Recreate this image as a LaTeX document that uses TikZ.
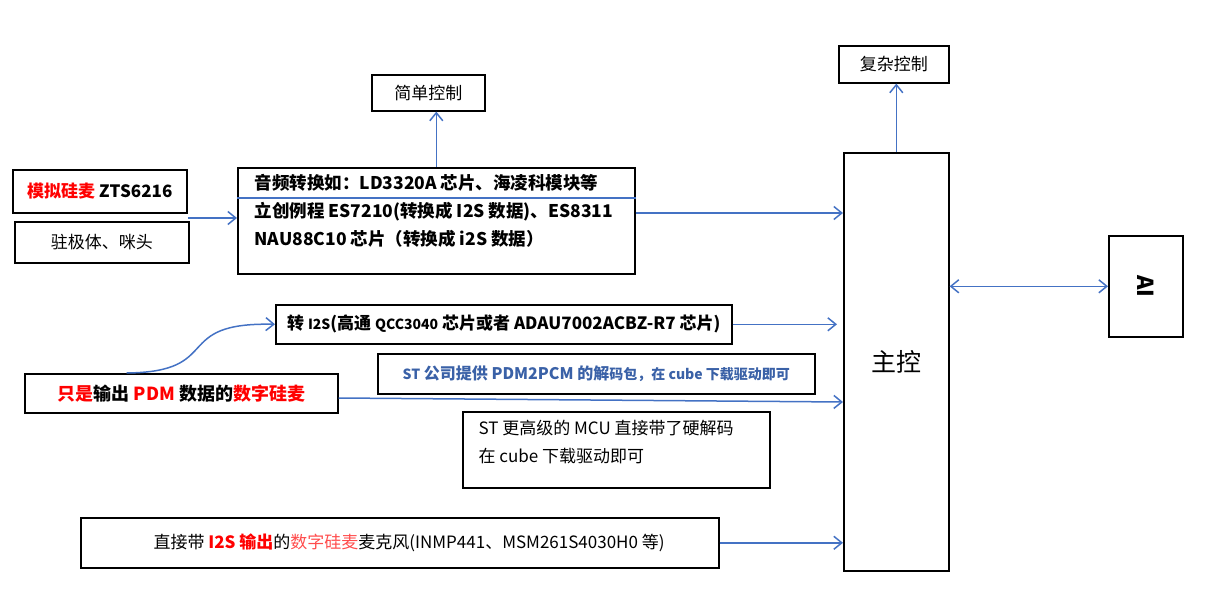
\documentclass[tikz,border=0pt]{standalone}
\usepackage{fontspec}
\setmainfont{Noto Sans CJK SC}
\usetikzlibrary{positioning,arrows.meta}
\definecolor{linkblue}{RGB}{68,114,196}
\definecolor{hotred}{RGB}{255,0,0}
\tikzset{
  box/.style = {rectangle, draw, line width=1.6pt, inner sep=0pt, anchor=north west,
                font=\fontsize{17}{20}\selectfont},
  arr/.style = {-{Straight Barb[length=8pt,width=13pt]}, draw=linkblue, line width=1.5pt},
  darr/.style = {{Straight Barb[length=8pt,width=13pt]}-{Straight Barb[length=8pt,width=13pt]},
                 draw=linkblue, line width=1.5pt}
}
\newcommand{\boxat}[5]{% name, x1,y1,x2,y2
  \node[box, minimum width=#4pt-#2pt, minimum height=#5pt-#3pt] (#1) at (#2,#3) {};}
\newcommand{\smalltxt}[1]{{\fontsize{14}{16}\selectfont #1}}
\begin{document}
\begin{tikzpicture}[x=1pt,y=-1pt]
  \useasboundingbox (0,0) rectangle (1214,609);
  % boxes
  \boxat{simple}{371}{74}{484}{110}
  \boxat{complex}{838}{45}{948}{82}
  \boxat{analog}{12}{169}{186}{212}
  \boxat{electret}{14}{221}{188}{262}
  \boxat{codec}{237}{167}{634}{273}
  \boxat{mcu}{843}{152}{948}{570}
  \boxat{ai}{1108}{235}{1182}{336}
  \boxat{toi2s}{275}{304}{731}{343}
  \boxat{stlib}{377}{353}{814}{393}
  \boxat{pdm}{24}{373}{337}{412}
  \boxat{sthw}{462}{411}{769}{487}
  \boxat{i2smic}{80}{517}{718}{567}
  \coordinate (feed) at (188,218);
  % texts
  \node[font=\fontsize{17}{20}\selectfont] at (simple.center) {简单控制};
  \node[font=\fontsize{17}{20}\selectfont] at (complex.center) {复杂控制};
  \node[font=\fontsize{17}{20}\selectfont\bfseries] at (analog.center) {\textcolor{hotred}{模拟硅麦} ZTS6216};
  \node[font=\fontsize{17}{20}\selectfont] at (electret.center) {驻极体、咪头};
  \node[font=\fontsize{17.5}{28}\selectfont\bfseries, align=left, anchor=north west]
    at ([xshift=14pt,yshift=-4pt]codec.north west)
    {音频转换如：LD3320A 芯片、海凌科模块等\\立创例程 ES7210(转换成 I2S 数据)、ES8311\\NAU88C10 芯片（转换成 i2S 数据）};
  \node[font=\fontsize{25}{28}\selectfont] at (mcu.center) {主控};
  \node[font=\fontsize{22}{26}\selectfont\bfseries, rotate=-90] at (ai.center) {AI};
  \node[font=\fontsize{17}{20}\selectfont\bfseries] at (toi2s.center) {转 \smalltxt{I2S}(高通 \smalltxt{QCC3040} 芯片或者 ADAU7002ACBZ-R7 芯片)};
  \node[font=\fontsize{16}{20}\selectfont\bfseries, text=linkblue!85!black] at (stlib.center) {\smalltxt{ST} 公司提供 PDM2PCM 的解\smalltxt{码包，在 cube 下载驱动即可}};
  \node[font=\fontsize{18}{20}\selectfont\bfseries] at (pdm.center) {\textcolor{hotred}{只是}输出 \textcolor{hotred}{PDM} 数据的\textcolor{hotred}{数字硅麦}};
  \node[font=\fontsize{17}{28}\selectfont, align=left, anchor=north west]
    at ([xshift=13pt,yshift=-6pt]sthw.north west)
    {ST 更高级的 MCU 直接带了硬解码\\在 cube 下载驱动即可};
  \node[font=\fontsize{17}{20}\selectfont, anchor=west] at ([xshift=70pt]i2smic.west)
    {直接带 \textcolor{hotred}{\bfseries I2S 输出}的\textcolor{hotred!70}{数字硅麦}麦克风(INMP441、MSM261S4030H0 等)};
  % connectors
  \draw[linkblue, line width=1.5pt] ([yshift=-31pt]codec.north west) -- ([yshift=-31pt]codec.north east);
  \draw[arr] (feed) -- (feed -| codec.west);
  \draw[arr] (codec.north) -- (codec.north |- simple.south);
  \draw[arr] ([yshift=-46pt]codec.north east) -- ([yshift=-46pt]codec.north east -| mcu.west);
  \draw[arr] (mcu.north) -- (mcu.north |- complex.south);
  \draw[darr] (mcu.east |- ai.west) -- (ai.west);
  \draw[arr] (toi2s.east) -- ([xshift=-6pt]toi2s.east -| mcu.west);
  \draw[arr] ([yshift=-25pt]pdm.north east) -- ([yshift=-29pt]pdm.north east -| mcu.west);
  \draw[arr] ([xshift=-212pt]pdm.north east) .. controls (225,372) and (170,322) .. (toi2s.west);
  \draw[arr] (i2smic.east) -- (i2smic.east -| mcu.west);
\end{tikzpicture}
\end{document}
